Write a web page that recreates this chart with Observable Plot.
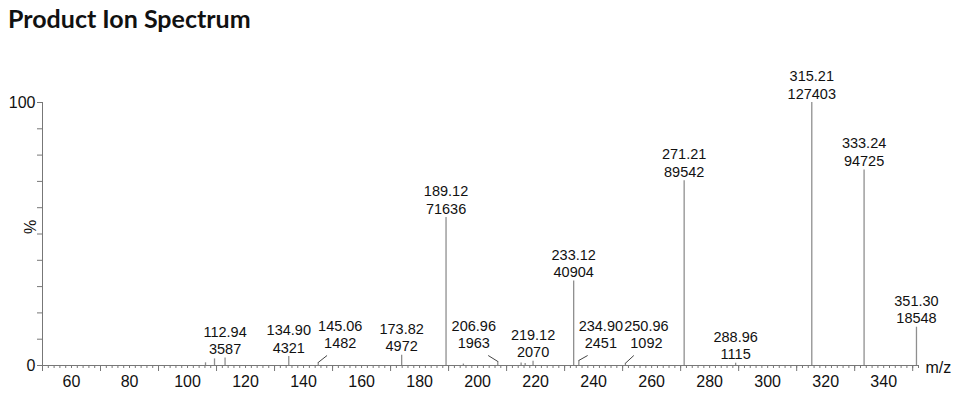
<!DOCTYPE html>
<html>
<head>
<meta charset="utf-8">
<script src="https://cdn.jsdelivr.net/npm/d3@7"></script>
<script src="https://cdn.jsdelivr.net/npm/@observablehq/plot@0.6"></script>
<style>
  html, body { margin: 0; padding: 0; background: #fff; }
  #title {
    font-family: Lato, "Noto Sans", sans-serif;
    font-weight: 700;
    font-size: 25px;
    line-height: 25px;
    color: #111;
    height: 40px;
    box-sizing: border-box;
    padding: 6px 0 0 8px;
  }
  #chart svg { display: block; overflow: visible; }
</style>
</head>
<body>
<div id="title">Product Ion Spectrum</div>
<div id="chart"></div>
<script>
// ---- data ----
const peakMz = [106.2, 109.3, 112.94, 134.90, 145.06, 173.82, 189.12, 195.1, 206.96,
                215.0, 216.4, 219.12, 233.12, 234.90, 250.96, 271.21, 288.96,
                315.21, 333.24, 351.30];
const peakCounts = [1300, 3200, 3587, 4321, 1482, 4972, 71636, 700, 1963,
                    1200, 1000, 2070, 40904, 2451, 1092, 89542, 1115,
                    127403, 94725, 18548];
const labeledMz = [112.94, 134.90, 145.06, 173.82, 189.12, 206.96, 219.12, 233.12,
                   234.90, 250.96, 271.21, 288.96, 315.21, 333.24, 351.30];
const xTickLabels = [60, 80, 100, 120, 140, 160, 180, 200, 220, 240, 260, 280, 300, 320, 340];
const yTickLabels = [0, 100];
const xTitle = "m/z";
const yTitle = "%";

// ---- layout ----
const W = 960, H = 357, mL = 42, mR = 42, mT = 62, mB = 32;
const xDomain = [50, 352];
const yDomain = [0, 100];
const pxPerUnit = (W - mL - mR) / (xDomain[1] - xDomain[0]);
// labels pushed aside (pixels) and joined to their peak by a leader line
const labelShiftPx = {"145.06": 22, "206.96": -24, "234.90": 22, "250.96": 21};
const shiftedLabelPct = 5;

const maxCount = d3.max(peakCounts);
const peaks = peakMz.map((mz, i) => ({mz, count: peakCounts[i], pct: peakCounts[i] / maxCount * 100}));
const labels = peaks.filter(p => labeledMz.includes(p.mz)).map(p => {
  const key = p.mz.toFixed(2);
  const s = labelShiftPx[key];
  if (s === undefined) return {...p, lx: p.mz, ly: p.pct, shifted: false};
  const sh = s / pxPerUnit;
  return {...p, lx: p.mz + sh, ly: shiftedLabelPct, shifted: true,
          leadX: p.mz + sh * 0.4, leadY: shiftedLabelPct - 1.2};
});
const leaders = labels.filter(d => d.shifted);

const axisColor = "#777";
const chart = Plot.plot({
  width: W, height: H,
  marginLeft: mL, marginRight: mR, marginTop: mT, marginBottom: mB,
  x: {domain: xDomain, label: null},
  y: {domain: yDomain, label: null},
  style: {fontFamily: "'Liberation Sans', Arial, sans-serif", fontSize: "16px", color: "#111", background: "#fff", overflow: "visible"},
  marks: [
    // peaks
    Plot.ruleX(peaks, {x: "mz", y1: 0, y2: "pct", stroke: "#8f8f8f", strokeWidth: 1.3}),
    // axis lines
    Plot.ruleY([yDomain[0]], {stroke: axisColor}),
    Plot.ruleX([xDomain[0]], {y1: yDomain[0], y2: yDomain[1], stroke: axisColor}),
    // x ticks
    Plot.axisX(d3.range(50, 353, 2), {tickSize: 3, text: null, stroke: axisColor}),
    Plot.axisX(d3.range(50, 353, 20), {tickSize: 6, text: null, stroke: axisColor}),
    Plot.axisX(xTickLabels, {tickSize: 0, tickPadding: 10, fontSize: 16, fill: "#111"}),
    // y ticks
    Plot.axisY(d3.range(0, 101, 10), {tickSize: 5, text: null, stroke: axisColor}),
    Plot.axisY(yTickLabels, {tickSize: 5, tickPadding: 2, fontSize: 16, fill: "#111", stroke: axisColor}),
    // axis titles
    Plot.text([yTitle], {text: d => d, frameAnchor: "left", y: () => (yDomain[0] + yDomain[1]) / 2,
      dx: -12, rotate: -90, fontSize: 16, fill: "#111"}),
    Plot.text([xTitle], {text: d => d, x: () => xDomain[1], y: () => yDomain[0],
      dx: 7, dy: 2, textAnchor: "start", fontSize: 16, fill: "#111"}),
    // leader lines
    Plot.link(leaders, {x1: "mz", y1: "pct", x2: "leadX", y2: "leadY", stroke: "#444", strokeWidth: 1}),
    // peak labels
    Plot.text(labels, {x: "lx", y: "ly", text: d => d.mz.toFixed(2) + "\n" + d.count,
      lineAnchor: "bottom", lineHeight: 1.21, dy: -4, fontSize: 14.5, fill: "#111"})
  ]
});
document.getElementById("chart").appendChild(chart);
</script>
</body>
</html>
